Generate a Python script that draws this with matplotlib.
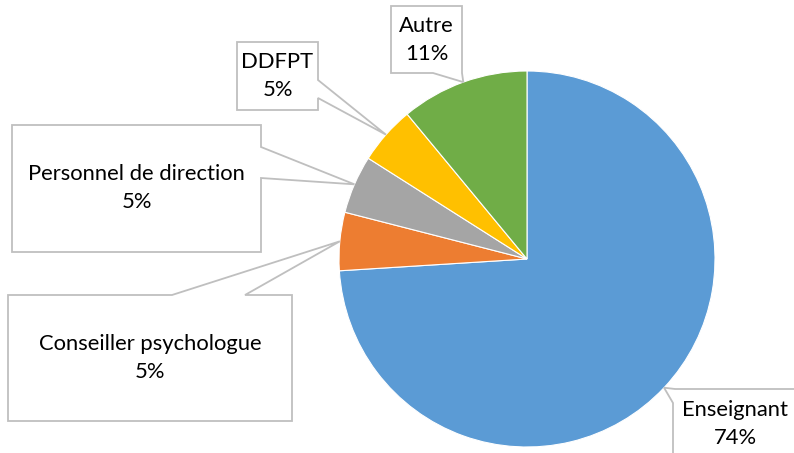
import numpy as np
import matplotlib
matplotlib.use("Agg")
import matplotlib.pyplot as plt
from matplotlib.patches import Polygon

# data
labels = ["Enseignant", "Conseiller psychologue", "Personnel de direction", "DDFPT", "Autre"]
shares = [74, 5, 5, 5, 11]
colors = ["#5B9BD5", "#ED7D31", "#A5A5A5", "#FFC000", "#70AD47"]

W, H = 794, 453
cx, cy, R = 527, 259, 188

# callout boxes in pixels (x0, y0, x1, y1), pointer side and base positions
boxes = {
    "Enseignant": ((673, 389, 797, 459), "left", (389, 403)),
    "Conseiller psychologue": ((8, 295, 292, 421), "top", (172, 245)),
    "Personnel de direction": ((12, 125, 261, 252), "right", (147, 178)),
    "DDFPT": ((237, 42, 318, 110), "right", (80, 98)),
    "Autre": ((391, 6, 462, 73), "bottom", (433, 462)),
}

fig = plt.figure(figsize=(W / 100, H / 100), dpi=100)
ax = fig.add_axes([0, 0, 1, 1])

# y axis is flipped (pixel coords), so counterclock in data = clockwise on screen
wedges, _ = ax.pie(shares, colors=colors, startangle=-90, counterclock=True,
                   center=(cx, cy), radius=R,
                   wedgeprops=dict(edgecolor="white", linewidth=0.8))
ax.set_xlim(0, W)
ax.set_ylim(H, 0)
ax.set_aspect("equal")
ax.axis("off")

edge = "#BFBFBF"
for w, lab, val in zip(wedges, labels, shares):
    mid = np.deg2rad((w.theta1 + w.theta2) / 2)
    tip = (cx + R * np.cos(mid), cy + R * np.sin(mid))
    (x0, y0, x1, y1), side, (b0, b1) = boxes[lab]
    if side == "left":
        pts = [(x0 + 2, y0), (x1, y0), (x1, y1), (x0, y1), (x0, b1), tip]
    elif side == "top":
        pts = [(x0, y0), (b0, y0), tip, (b1, y0), (x1, y0), (x1, y1), (x0, y1)]
    elif side == "right":
        pts = [(x0, y0), (x1, y0), (x1, b0), tip, (x1, b1), (x1, y1), (x0, y1)]
    else:
        pts = [(x0, y0), (x1, y0), (x1, y1), tip, (b0, y1), (x0, y1)]
    ax.add_patch(Polygon(pts, closed=True, facecolor="white", edgecolor=edge,
                         linewidth=1.3, zorder=3, clip_on=False))
    if lab == "Enseignant":
        tx, ty = 735, 424
    else:
        tx, ty = (x0 + x1) / 2, (y0 + y1) / 2
    ax.text(tx, ty, "%s\n%d%%" % (lab, val), ha="center", va="center",
            fontsize=15.8, family="Lato", color="#000000", linespacing=1.5,
            zorder=4)

fig.savefig("out.png", dpi=100)
